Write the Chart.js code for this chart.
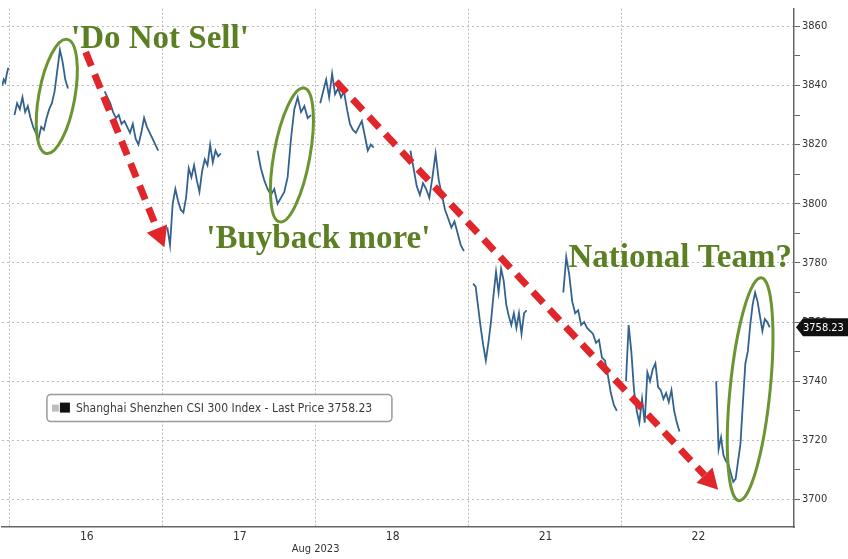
<!DOCTYPE html>
<html>
<head>
<meta charset="utf-8">
<script src="https://cdn.jsdelivr.net/npm/chart.js@4.4.0/dist/chart.umd.min.js"></script>
<style>
  html, body { margin: 0; padding: 0; background: #fff; }
  #wrap { width: 848px; height: 559px; position: relative; }
</style>
</head>
<body>
<div id="wrap"><canvas id="csi-chart"></canvas></div>
<script>
// Trading days shown (Aug 2023) and y-axis ticks
const days = ['16', '17', '18', '21', '22'];
const yTicks = [3700, 3710, 3720, 3730, 3740, 3750, 3760, 3770, 3780, 3790, 3800, 3810, 3820, 3830, 3840, 3850, 3860];
const lastPrice = 3758.23;

// Intraday prices, one array per session (morning / afternoon)
const prevTail = [3840, 3842, 3841, 3844, 3846];
const am16 = [3830, 3834, 3832, 3836, 3831, 3833, 3829, 3826, 3824, 3822, 3826, 3825, 3829, 3832, 3834, 3838, 3845, 3852, 3848, 3842, 3839];
const pm16 = [3838, 3836, 3834, 3831, 3829, 3830, 3827, 3828, 3826, 3824, 3827, 3822, 3820, 3824, 3829, 3826, 3824, 3822, 3820, 3818];
const am17 = [3792, 3786, 3800, 3805, 3801, 3798, 3797, 3802, 3812, 3809, 3813, 3808, 3804, 3811, 3815, 3813, 3820, 3814, 3818, 3816, 3817];
const pm17 = [3818, 3812, 3808, 3805, 3803, 3805, 3800, 3802, 3804, 3809, 3822, 3832, 3836, 3831, 3833, 3829, 3830];
const am18 = [3834, 3838, 3842, 3836, 3844, 3837, 3839, 3836, 3838, 3832, 3827, 3825, 3824, 3826, 3828, 3823, 3818, 3820, 3819];
const pm18 = [3818, 3812, 3806, 3803, 3807, 3805, 3802, 3809, 3817, 3808, 3803, 3798, 3795, 3792, 3794, 3790, 3786, 3784];
const am21 = [3773, 3772, 3765, 3758, 3752, 3747, 3753, 3760, 3769, 3777, 3770, 3778, 3774, 3766, 3762, 3759, 3763, 3758, 3763, 3756, 3763, 3764];
const pm21 = [3770, 3782, 3776, 3767, 3763, 3764, 3759, 3760, 3758, 3757, 3756, 3753, 3754, 3748, 3747, 3742, 3736, 3732, 3730];
const am22 = [3740, 3759, 3750, 3737, 3730, 3726, 3734, 3726, 3743, 3740, 3744, 3746, 3738, 3737, 3734, 3736, 3733, 3737, 3730, 3726, 3723];
const pm22 = [3740, 3717, 3721, 3715, 3713, 3712, 3709, 3706, 3707, 3713, 3719, 3733, 3746, 3750, 3759, 3766, 3770, 3767, 3762, 3757, 3761, 3760, lastPrice];
const sessions = [[am16, pm16], [am17, pm17], [am18, pm18], [am21, pm21], [am22, pm22]];

// annotations (in day / price units)
const ellipses = [
  { x: 0.307, y: 3836.3, rx: 18, ry: 58, rot: 0.18 },
  { x: 1.845, y: 3816.5, rx: 18, ry: 68, rot: 0.18 },
  { x: 4.842, y: 3737.3, rx: 20, ry: 112, rot: 0.1 }
];
const arrows = [
  { x0: 0.496, y0: 3851.3, x1: 1.011, y1: 3785.3 },
  { x0: 2.134, y0: 3841.3, x1: 4.633, y1: 3703.3 }
];
const notes = [
  { text: "'Do Not Sell'", x: 0.4, y: 3852.7 },
  { text: "'Buyback more'", x: 1.285, y: 3785 },
  { text: 'National Team?', x: 3.654, y: 3778.7 }
];

// spread each session over its slot of the day, null between sessions
const AM = [0.03, 0.38], PM = [0.62, 0.97];
function place(vals, x0, x1) {
  return vals.map((v, i) => ({ x: x0 + (x1 - x0) * i / (vals.length - 1), y: v }));
}
let points = place(prevTail, -0.05, -0.01);
sessions.forEach((s, i) => {
  points.push({ x: i, y: null });
  points = points.concat(place(s[0], i + AM[0], i + AM[1]));
  points.push({ x: i + 0.5, y: null });
  points = points.concat(place(s[1], i + PM[0], i + PM[1]));
});

const axisFont = { family: '"DejaVu Sans Condensed", "DejaVu Sans", sans-serif', size: 11 };

const overlay = {
  id: 'overlay',
  afterDatasetsDraw(chart) {
    const ctx = chart.ctx, xs = chart.scales.x, ys = chart.scales.y, area = chart.chartArea;
    ctx.save();

    // red dashed arrows
    arrows.forEach(a => {
      const x0 = xs.getPixelForValue(a.x0), y0 = ys.getPixelForValue(a.y0);
      const x1 = xs.getPixelForValue(a.x1), y1 = ys.getPixelForValue(a.y1);
      const ang = Math.atan2(y1 - y0, x1 - x0);
      const head = 20;
      ctx.strokeStyle = '#e0252b';
      ctx.lineWidth = 7;
      ctx.setLineDash([15, 9]);
      ctx.beginPath();
      ctx.moveTo(x0, y0);
      ctx.lineTo(x1 - head * Math.cos(ang), y1 - head * Math.sin(ang));
      ctx.stroke();
      ctx.setLineDash([]);
      ctx.fillStyle = '#e0252b';
      ctx.beginPath();
      ctx.moveTo(x1, y1);
      ctx.lineTo(x1 - head * Math.cos(ang) + 11 * Math.sin(ang), y1 - head * Math.sin(ang) - 11 * Math.cos(ang));
      ctx.lineTo(x1 - head * Math.cos(ang) - 11 * Math.sin(ang), y1 - head * Math.sin(ang) + 11 * Math.cos(ang));
      ctx.closePath();
      ctx.fill();
    });

    // green ellipses
    ctx.strokeStyle = '#6a9530';
    ctx.lineWidth = 3;
    ellipses.forEach(e => {
      ctx.beginPath();
      ctx.ellipse(xs.getPixelForValue(e.x), ys.getPixelForValue(e.y), e.rx, e.ry, e.rot, 0, Math.PI * 2);
      ctx.stroke();
    });

    // green notes
    ctx.fillStyle = '#5b7f22';
    ctx.font = 'bold 33px "Liberation Serif", "DejaVu Serif", serif';
    ctx.textAlign = 'left';
    ctx.textBaseline = 'alphabetic';
    notes.forEach(n => ctx.fillText(n.text, xs.getPixelForValue(n.x), ys.getPixelForValue(n.y)));

    // legend box
    const lx = area.left + 45, ly = area.top + 386;
    ctx.fillStyle = '#fff';
    ctx.strokeStyle = '#9a9a9a';
    ctx.lineWidth = 1.5;
    ctx.beginPath();
    ctx.roundRect(lx, ly, 345, 27, 4);
    ctx.fill();
    ctx.stroke();
    ctx.fillStyle = '#bdbdbd';
    ctx.fillRect(lx + 5, ly + 10, 7, 7);
    ctx.fillStyle = '#111';
    ctx.fillRect(lx + 13, ly + 8, 10, 10);
    ctx.fillStyle = '#3a3a3a';
    ctx.font = '12px "DejaVu Sans Condensed", "DejaVu Sans", sans-serif';
    ctx.textBaseline = 'middle';
    ctx.fillText('Shanghai Shenzhen CSI 300 Index - Last Price ' + lastPrice.toFixed(2), lx + 29, ly + 14);

    // last price tag on the axis
    const ty = ys.getPixelForValue(lastPrice), tx = area.right + 2;
    ctx.fillStyle = '#111';
    ctx.beginPath();
    ctx.moveTo(tx, ty);
    ctx.lineTo(tx + 7, ty - 9);
    ctx.lineTo(848, ty - 9);
    ctx.lineTo(848, ty + 9);
    ctx.lineTo(tx + 7, ty + 9);
    ctx.closePath();
    ctx.fill();
    ctx.fillStyle = '#fff';
    ctx.font = '11px "DejaVu Sans Condensed", "DejaVu Sans", sans-serif';
    ctx.fillText(lastPrice.toFixed(2), tx + 7, ty + 1);

    // month label under the 17/18 boundary
    ctx.fillStyle = '#333';
    ctx.textAlign = 'center';
    ctx.fillText('Aug 2023', xs.getPixelForValue(2), area.bottom + 22);
    ctx.restore();
  }
};

new Chart(document.getElementById('csi-chart').getContext('2d'), {
  type: 'line',
  data: {
    datasets: [{
      data: points,
      borderColor: '#33628f',
      borderWidth: 1.8,
      pointRadius: 0,
      tension: 0,
      spanGaps: false
    }]
  },
  options: {
    responsive: true,
    maintainAspectRatio: false,
    animation: false,
    layout: { padding: 0 },
    plugins: { legend: { display: false }, tooltip: { enabled: false } },
    scales: {
      x: {
        type: 'linear',
        min: -0.052,
        max: 5.129,
        afterBuildTicks: s => { s.ticks = days.map((d, i) => ({ value: i })); },
        afterFit: s => { s.height = 32; },
        ticks: {
          callback: (v, i) => days[i],
          labelOffset: 77,
          maxRotation: 0,
          autoSkip: false,
          padding: 3,
          color: '#333',
          font: { family: axisFont.family, size: 12 }
        },
        grid: { color: '#b8b8b8', drawTicks: false, lineWidth: 1 },
        border: { display: true, color: '#666', width: 1.5, dash: [2, 2] }
      },
      y: {
        position: 'right',
        min: 3690.7,
        max: 3866,
        afterBuildTicks: s => { s.ticks = yTicks.map(v => ({ value: v })); },
        afterFit: s => { s.width = 54; },
        ticks: {
          callback: v => (v % 20 === 0 ? v : ''),
          padding: 2,
          color: '#333',
          font: axisFont
        },
        grid: {
          color: c => (c.tick && c.tick.value % 20 === 0 ? '#b8b8b8' : 'rgba(0,0,0,0)'),
          tickColor: '#666',
          tickLength: 6,
          lineWidth: 1
        },
        border: { display: true, color: '#666', width: 1.5, dash: [2, 3] }
      }
    }
  },
  plugins: [overlay]
});
</script>
</body>
</html>
